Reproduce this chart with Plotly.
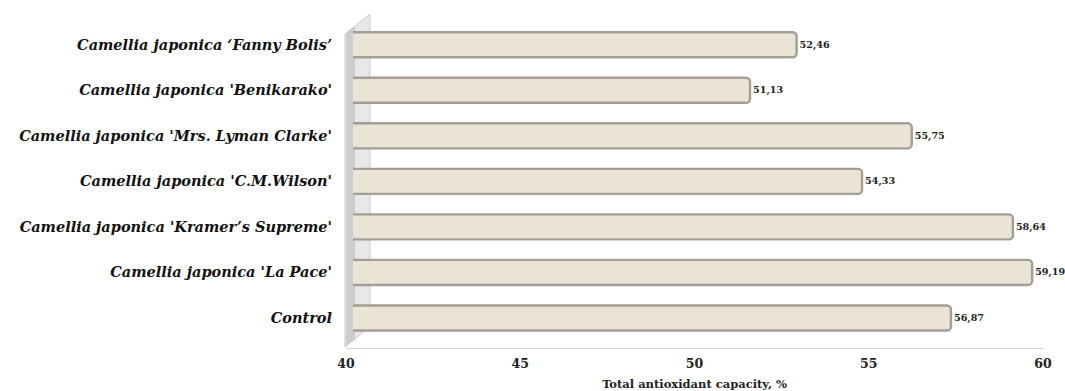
import plotly.graph_objects as go

# Cultivars, bottom to top
varieties = [
    "Control",
    "Camellia japonica 'La Pace'",
    "Camellia japonica 'Kramer\u2019s Supreme'",
    "Camellia japonica 'C.M.Wilson'",
    "Camellia japonica 'Mrs. Lyman Clarke'",
    "Camellia japonica 'Benikarako'",
    "Camellia japonica \u2018Fanny Bolis\u2019",
]
antioxidant_capacity = [56.87, 59.19, 58.64, 54.33, 55.75, 51.13, 52.46]
axis_ticks = [40, 45, 50, 55, 60]

W, H = 1065, 391
ML, MR, MT, MB = 346, 22, 22, 43
PW, PH = W - ML - MR, H - MT - MB

# bar scale: 35 px per unit, bars start a little right of the wall
BAR_PX_PER_UNIT = 35.0
bar_start_px = 7
bar_lo = 40 - 7.5 / BAR_PX_PER_UNIT
bar_hi = bar_lo + (PW - bar_start_px) / BAR_PX_PER_UNIT

SERIF = "DejaVu Serif"


def px(xp):
    return (xp - ML) / PW


def py(yp):
    return (MT + PH - yp) / PH


fig = go.Figure()

fig.add_trace(go.Bar(
    x=antioxidant_capacity,
    y=varieties,
    orientation="h",
    xaxis="x",
    yaxis="y",
    width=0.55,
    marker=dict(color="#eae4d7", line=dict(color="#a49e93", width=2.4), cornerradius=4),
    texttemplate="<b>%{x:.2f}</b>",
    textposition="outside",
    textfont=dict(family=SERIF, size=9.6, color="#222222"),
    cliponaxis=False,
    showlegend=False,
))

# empty trace so the value axis with ticks and title is laid out
fig.add_trace(go.Scatter(x=[], y=[], xaxis="x2", yaxis="y", mode="markers",
                         showlegend=False, hoverinfo="skip"))

# side wall of the chart box
wall = "M {x0},{y0} L {x0},{y1} L {x1},{y2} L {x1},{y3} Z".format(
    x0=px(345), y0=py(347), y1=py(34), x1=px(370), y2=py(14), y3=py(327))
stripe = "M {x0},{y0} L {x0},{y1} L {x1},{y2} L {x1},{y3} Z".format(
    x0=px(346), y0=py(346), y1=py(33), x1=px(355), y2=py(26), y3=py(339))
fig.add_shape(type="path", path=wall, xref="paper", yref="paper",
              fillcolor="#e8e8e8", line=dict(color="#cccccc", width=1), layer="below")
fig.add_shape(type="path", path=stripe, xref="paper", yref="paper",
              fillcolor="#cdcdcd", line=dict(width=0), layer="below")

fig.update_layout(
    width=W, height=H,
    margin=dict(l=ML, r=MR, t=MT, b=MB, autoexpand=False),
    paper_bgcolor="white", plot_bgcolor="rgba(0,0,0,0)",
    separators=",.",
    xaxis=dict(
        domain=[bar_start_px / PW, 1], range=[bar_lo, bar_hi], anchor="y",
        visible=False,
    ),
    xaxis2=dict(
        domain=[0, 1], range=[40, 60], anchor="y",
        tickvals=axis_ticks,
        showgrid=False, zeroline=False, automargin=False,
        showline=True, linecolor="#d6d6d6", linewidth=1,
        ticklabelstandoff=4,
        tickfont=dict(family=SERIF, size=12.5, color="#222222", weight="bold"),
        title=dict(text="<b>Total antioxidant capacity, %</b>",
                   font=dict(family=SERIF, size=11.5, color="#222222"), standoff=9),
    ),
    yaxis=dict(
        domain=[0, 1], range=[-0.66, 6.5], anchor="free", position=0,
        categoryorder="array", categoryarray=varieties,
        showgrid=False, zeroline=False, showline=False, ticks="",
        automargin=False, ticklabelstandoff=14,
        tickfont=dict(family=SERIF, size=14.5, color="#111111", weight="bold", style="italic"),
    ),
)

fig.write_html("out.html")
